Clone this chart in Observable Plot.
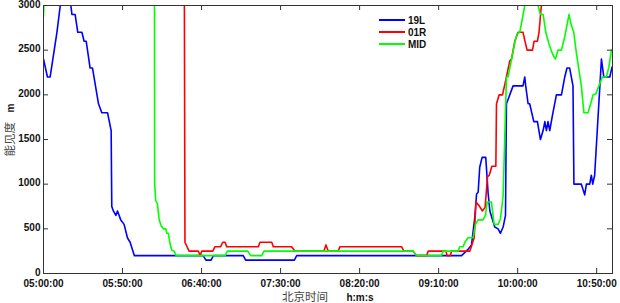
<!DOCTYPE html>
<html>
<head>
<meta charset="utf-8">
<script src="https://cdn.jsdelivr.net/npm/d3@7"></script>
<script src="https://cdn.jsdelivr.net/npm/@observablehq/plot@0.6"></script>
<style>
  html, body { margin: 0; padding: 0; background: #fff; }
  #wrap { position: relative; width: 620px; height: 303px; }
  #legend { position: absolute; left: 379px; top: 14px; font: bold 10px "Liberation Sans", Arial, sans-serif; color: #111; }
  #legend .row { display: flex; align-items: center; height: 12px; }
  #legend .sw { width: 26px; height: 2px; margin-right: 3px; }
</style>
</head>
<body>
<div id="wrap"><div id="legend"></div></div>
<script>
// Minutes after 05:00:00 (Beijing time) and visibility (m); values > 3000 lie above the plot
const seriesNames = ["19L", "01R", "MID"];
const seriesColors = ["#0000ff", "#ff0000", "#00ff00"];

const t19L = [0, 2.5, 4.2, 8.5, 10.6, 12.5, 15.6, 17.3, 18.0, 20.0, 21.7, 24.3, 25.7, 27.0, 29.5, 31.0, 34.8, 36.9, 40.5, 42.8, 43.2, 44.2, 45.8, 46.8, 48.9, 51.0, 53.1, 54.8, 57.5, 101.0, 102.8, 106.0, 107.5, 126.4, 127.9, 158.7, 160.2, 264.5, 268.6, 270.8, 272.9, 274.0, 275.0, 276.0, 277.5, 279.8, 281.3, 282.4, 285.5, 287.6, 289.1, 290.8, 292.3, 292.9, 297.1, 303.4, 304.5, 305.1, 306.6, 307.6, 310.2, 312.5, 314.4, 316.1, 317.2, 318.2, 319.2, 320.3, 322.0, 324.5, 327.7, 329.8, 331.2, 332.9, 335.0, 335.6, 340.3, 342.4, 343.5, 345.6, 346.6, 347.5, 348.7, 353.0, 354.5, 358.3, 359.7];
const v19L = [2400, 2200, 2200, 2700, 3000, 3200, 3200, 3000, 2900, 2900, 2700, 2700, 2600, 2600, 2300, 2300, 1900, 1800, 1800, 1600, 750, 700, 650, 700, 600, 550, 400, 350, 200, 200, 150, 150, 200, 200, 150, 150, 200, 200, 270, 320, 630, 890, 910, 1190, 1300, 1300, 900, 700, 520, 500, 450, 520, 650, 1900, 2100, 2100, 2200, 2100, 1900, 1900, 1700, 1700, 1500, 1600, 1700, 1600, 1700, 1600, 1770, 2000, 2000, 2200, 2300, 2300, 2100, 1000, 1000, 880, 1000, 1000, 1100, 1000, 1100, 2400, 2200, 2200, 2310];

const t01R = [0, 89.1, 89.5, 92.1, 98.0, 99.1, 100.1, 107.1, 108.5, 112.1, 113.4, 114.9, 115.9, 135.9, 137.0, 144.4, 145.4, 157.0, 159.1, 177.4, 178.7, 180.2, 186.5, 187.5, 226.5, 228.0, 233.9, 236.0, 242.4, 243.4, 254.6, 255.4, 257.5, 258.1, 269.7, 272.5, 273.6, 275.6, 277.7, 279.4, 280.9, 282.0, 283.7, 286.2, 286.6, 288.3, 290.4, 292.9, 295.0, 296.1, 298.2, 300.3, 303.4, 304.5, 306.0, 309.4, 310.4, 312.5, 313.5, 315.0, 315.9, 360];
const v01R = [3300, 3300, 350, 250, 250, 200, 250, 250, 300, 300, 350, 350, 300, 300, 350, 350, 300, 300, 250, 250, 320, 250, 250, 300, 300, 250, 250, 200, 200, 250, 250, 200, 200, 250, 250, 400, 800, 760, 700, 740, 1080, 1100, 1200, 1200, 1900, 2000, 2000, 2200, 2380, 2400, 2600, 2700, 2700, 2610, 2500, 2500, 2600, 2600, 2700, 3000, 3300, 3300];

const tMID = [0, 0.8, 70.2, 70.3, 71.0, 72.1, 73.1, 74.4, 75.9, 77.4, 78.0, 79.0, 80.1, 81.2, 82.6, 83.9, 114.9, 116.3, 129.2, 131.1, 138.1, 139.5, 233.9, 236.0, 251.8, 252.8, 262.3, 263.4, 265.5, 266.6, 268.6, 271.8, 273.3, 275.0, 278.1, 279.6, 280.7, 283.4, 285.1, 287.6, 289.1, 290.8, 292.9, 293.9, 295.6, 298.2, 299.6, 301.3, 302.4, 304.5, 305.7, 311.4, 312.9, 314.4, 316.1, 317.8, 319.8, 322.0, 323.9, 325.5, 327.7, 329.8, 332.5, 333.6, 335.5, 337.2, 340.3, 341.9, 344.5, 346.2, 347.7, 349.4, 351.4, 353.6, 356.1, 357.7, 359.3];
const vMID = [2880, 3300, 3300, 1020, 815, 780, 610, 535, 500, 500, 450, 450, 330, 260, 250, 200, 200, 250, 250, 200, 200, 250, 250, 200, 200, 250, 250, 300, 300, 350, 400, 400, 550, 600, 600, 650, 800, 800, 550, 550, 610, 870, 2200, 2200, 2350, 2590, 2680, 2700, 2800, 3000, 3300, 3300, 3000, 2900, 2900, 2700, 2570, 2460, 2400, 2500, 2500, 2650, 2900, 2800, 2700, 2460, 2100, 1800, 1800, 1900, 2000, 2010, 2100, 2200, 2200, 2310, 2500];

const xTickLabels = ["05:00:00", "05:50:00", "06:40:00", "07:30:00", "08:20:00", "09:10:00", "10:00:00", "10:50:00"];
const yTickValues = [0, 500, 1000, 1500, 2000, 2500, 3000];
const xStart = "05:00:00";
const xEnd = "11:00:00";

const parse = d3.utcParse("%H:%M:%S");
const base = parse(xStart).getTime();
const toDate = m => new Date(base + m * 60000);

const seriesT = [t19L, t01R, tMID];
const seriesV = [v19L, v01R, vMID];
const rows = [];
seriesNames.forEach((name, i) => {
  seriesT[i].forEach((t, j) => rows.push({series: name, time: toDate(t), value: seriesV[i][j]}));
});

const xTicks = xTickLabels.map(parse);

const W = 620, H = 303, mL = 43, mR = 8, mT = 5, mB = 30;
const pw = W - mL - mR, ph = H - mT - mB;
const fmt = d3.utcFormat("%H:%M:%S");
const axisColor = "#333";

const chart = Plot.plot({
  width: W, height: H,
  marginLeft: mL, marginRight: mR, marginTop: mT, marginBottom: mB,
  style: {fontFamily: "'Liberation Sans', Arial, sans-serif", background: "#fff"},
  x: {type: "utc", domain: [parse(xStart), parse(xEnd)]},
  y: {domain: [0, 3000]},
  color: {domain: seriesNames, range: seriesColors},
  marks: [
    Plot.line(rows, {x: "time", y: "value", z: "series", stroke: "series", strokeWidth: 1.6, clip: true, curve: "linear"}),
    Plot.frame({stroke: axisColor, strokeWidth: 1}),
    // inward ticks
    Plot.tickX(xTicks, {x: d => d, insetTop: ph - 5, stroke: axisColor}),
    Plot.tickX(xTicks, {x: d => d, insetBottom: ph - 5, stroke: axisColor}),
    Plot.tickY(yTickValues, {y: d => d, insetRight: pw - 5, stroke: axisColor}),
    Plot.tickY(yTickValues, {y: d => d, insetLeft: pw - 5, stroke: axisColor}),
    Plot.axisX(xTicks, {tickSize: 0, tickPadding: 6, tickFormat: fmt, fontWeight: "bold", fontSize: 10, fill: "#111", label: null}),
    Plot.axisY(yTickValues, {tickSize: 0, tickPadding: 3, tickFormat: d => String(d), fontWeight: "bold", fontSize: 10, fill: "#111", label: null, dy: -1}),
    // axis titles
    Plot.text(["北京时间"], {text: d => d, frameAnchor: "bottom", dx: -23, dy: 24, lineAnchor: "middle", fontSize: 11.5, fill: "#444", fontFamily: "'Noto Sans CJK SC', sans-serif", fontWeight: "normal"}),
    Plot.text(["h:m:s"], {text: d => d, frameAnchor: "bottom", dx: 32, dy: 24, lineAnchor: "middle", fontSize: 10, fontWeight: "bold", fill: "#111"}),
    Plot.text(["能见度"], {text: d => d, frameAnchor: "left", dx: -33, dy: 17, rotate: -90, lineAnchor: "middle", fontSize: 11.5, fill: "#444", fontFamily: "'Noto Sans CJK SC', sans-serif", fontWeight: "normal"}),
    Plot.text(["m"], {text: d => d, frameAnchor: "left", dx: -33, dy: -27, rotate: -90, lineAnchor: "middle", fontSize: 10, fontWeight: "bold", fill: "#111"})
  ]
});
document.getElementById("wrap").prepend(chart);

const legend = document.getElementById("legend");
seriesNames.forEach((name, i) => {
  const row = document.createElement("div");
  row.className = "row";
  const sw = document.createElement("span");
  sw.className = "sw";
  sw.style.background = seriesColors[i];
  const lab = document.createElement("span");
  lab.textContent = name;
  row.append(sw, lab);
  legend.append(row);
});
</script>
</body>
</html>
